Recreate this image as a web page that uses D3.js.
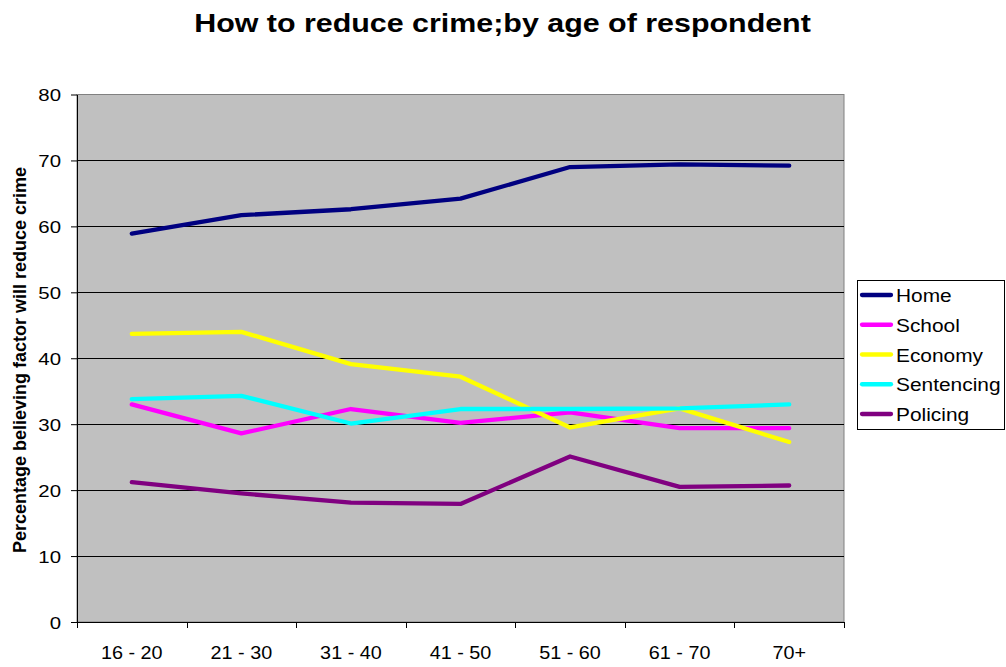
<!DOCTYPE html>
<html>
<head>
<meta charset="utf-8">
<script src="https://cdn.jsdelivr.net/npm/d3@7"></script>
<style>
  html, body { margin: 0; padding: 0; background: #fff; }
  text { font-family: "Liberation Sans", Arial, sans-serif; fill: #000; }
</style>
</head>
<body>
<svg id="chart" width="1006" height="667"></svg>
<script>
const categories = ["16 - 20", "21 - 30", "31 - 40", "41 - 50", "51 - 60", "61 - 70", "70+"];
const home       = [58.9, 61.7, 62.6, 64.2, 69.0, 69.4, 69.2];
const school     = [33.0, 28.6, 32.3, 30.2, 31.8, 29.4, 29.4];
const economy    = [43.7, 44.0, 39.1, 37.2, 29.5, 32.4, 27.3];
const sentencing = [33.8, 34.3, 30.1, 32.3, 32.3, 32.4, 33.0];
const policing   = [21.2, 19.5, 18.1, 17.9, 25.1, 20.5, 20.7];
const seriesNames = ["Home", "School", "Economy", "Sentencing", "Policing"];
const seriesColors = ["#000080", "#FF00FF", "#FFFF00", "#00FFFF", "#800080"];
const yTicks = [0, 10, 20, 30, 40, 50, 60, 70, 80];
const title = "How to reduce crime;by age of respondent";
const yLabel = "Percentage believing factor will reduce crime";

const seriesValues = [home, school, economy, sentencing, policing];
const svg = d3.select("#chart");

const plot = { left: 77, right: 844, top: 94.5, bottom: 622 };
const x = d3.scaleBand().domain(categories).range([plot.left, plot.right]).padding(0);
const y = d3.scaleLinear().domain([0, 80]).range([plot.bottom, plot.top]);
const cx = c => x(c) + x.bandwidth() / 2;

// plot background
svg.append("rect")
  .attr("x", plot.left).attr("y", plot.top)
  .attr("width", plot.right - plot.left).attr("height", plot.bottom - plot.top)
  .attr("fill", "#c0c0c0").attr("stroke", "#808080").attr("stroke-width", 1);

// gridlines
svg.append("g").selectAll("line").data(yTicks.filter(t => t > 0 && t < 80)).join("line")
  .attr("x1", plot.left).attr("x2", plot.right)
  .attr("y1", d => Math.round(y(d)) + 0.5).attr("y2", d => Math.round(y(d)) + 0.5)
  .attr("stroke", "#000").attr("stroke-width", 1);

// y axis
const yAxis = svg.append("g").attr("transform", `translate(${plot.left},0)`)
  .call(d3.axisLeft(y).tickValues(yTicks).tickSize(6).tickSizeOuter(0).tickFormat(d3.format("d")));
yAxis.select(".domain").attr("stroke", "#000");
yAxis.selectAll(".tick line").attr("stroke", "#000");
yAxis.selectAll(".tick text")
  .attr("font-size", 17).attr("text-anchor", "end")
  .attr("x", -16 / 1.2).attr("dy", 6.2)
  .attr("transform", "scale(1.2,1)")
  .style("font-family", '"Liberation Sans", Arial, sans-serif');

// x axis
const xAxis = svg.append("g").attr("transform", `translate(0,${plot.bottom})`)
  .call(d3.axisBottom(x).tickSize(0).tickSizeOuter(0));
xAxis.select(".domain").attr("stroke", "#000");
xAxis.selectAll(".tick text")
  .attr("font-size", 18).attr("y", 0).attr("dy", 37)
  .attr("transform", "scale(1.1,1)")
  .style("font-family", '"Liberation Sans", Arial, sans-serif');
// boundary ticks
const boundaries = categories.map(c => x(c)).concat([x.range()[1]]);
svg.append("g").selectAll("line").data(boundaries).join("line")
  .attr("x1", d => Math.round(d) + 0.5).attr("x2", d => Math.round(d) + 0.5)
  .attr("y1", plot.bottom).attr("y2", plot.bottom + 6)
  .attr("stroke", "#000");

// lines
const line = d3.line().x((d, i) => cx(categories[i])).y(d => y(d));
svg.append("g").selectAll("path").data(seriesValues).join("path")
  .attr("d", d => line(d))
  .attr("fill", "none")
  .attr("stroke", (d, i) => seriesColors[i])
  .attr("stroke-width", 4.3)
  .attr("stroke-linecap", "round")
  .attr("stroke-linejoin", "round");

// title
svg.append("text")
  .attr("transform", "translate(502.5,32) scale(1.17,1)")
  .attr("text-anchor", "middle")
  .attr("font-size", 26).attr("font-weight", "bold")
  .text(title);

// y label
svg.append("text")
  .attr("transform", "translate(26,360) rotate(-90)")
  .attr("text-anchor", "middle")
  .attr("font-size", 18).attr("font-weight", "bold")
  .text(yLabel);

// legend
const legend = svg.append("g");
legend.append("rect")
  .attr("x", 857.5).attr("y", 280.5).attr("width", 147).attr("height", 149)
  .attr("fill", "#fff").attr("stroke", "#000").attr("stroke-width", 1);
const ly = d3.scalePoint().domain(seriesNames).range([295, 414]);
const items = legend.selectAll("g.item").data(seriesNames).join("g").attr("class", "item");
items.append("line")
  .attr("x1", 862).attr("x2", 891)
  .attr("y1", d => ly(d)).attr("y2", d => ly(d))
  .attr("stroke", (d, i) => seriesColors[i])
  .attr("stroke-width", 4.3).attr("stroke-linecap", "round");
items.append("text")
  .attr("transform", d => `translate(896,${ly(d) + 7}) scale(1.13,1)`)
  .attr("font-size", 18.5)
  .text(d => d);
</script>
</body>
</html>
